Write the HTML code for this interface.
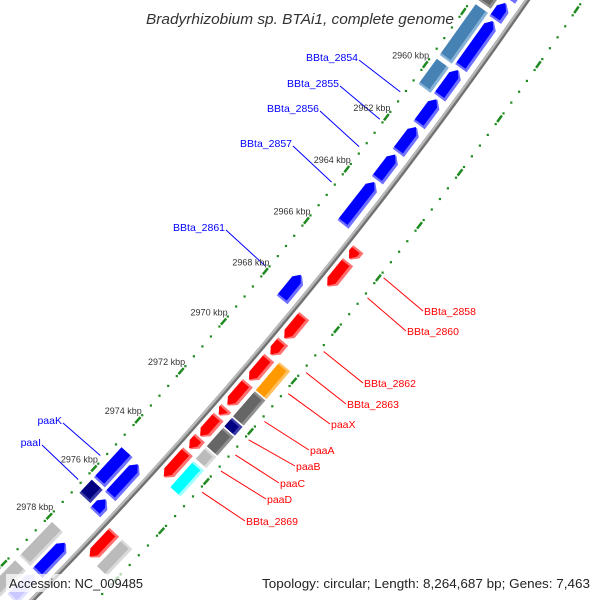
<!DOCTYPE html>
<html><head><meta charset="utf-8"><style>
html,body{margin:0;padding:0;background:#fff;width:600px;height:600px;overflow:hidden;}
svg{display:block;font-family:"Liberation Sans",sans-serif;}
</style></head><body>
<svg id="map" width="600" height="600" viewBox="0 0 600 600" xmlns="http://www.w3.org/2000/svg">
<rect x="0" y="0" width="600" height="600" fill="#fff"/>
<g id="ticks"></g>
<g id="backbone"></g>
<g id="genes"></g>
<g id="labels"></g>
<g id="ticklabels"></g>
<text x="146" y="24" font-size="15" font-style="italic" fill="#333" textLength="308" lengthAdjust="spacingAndGlyphs">Bradyrhizobium sp. BTAi1, complete genome</text>
<rect x="6" y="574" width="142" height="18" fill="#fff" opacity="0.7"/>
<rect x="258" y="574" width="336" height="18" fill="#fff" opacity="0.7"/>
<text x="9" y="588" font-size="13" fill="#222" textLength="134" lengthAdjust="spacingAndGlyphs">Accession: NC_009485</text>
<text x="262" y="588" font-size="13" fill="#222" textLength="328" lengthAdjust="spacingAndGlyphs">Topology: circular; Length: 8,264,687 bp; Genes: 7,463</text>
</svg>
<script>
// ---- data ----
const geneStart = [2955.8,2957.05,2957.72,2959.55,2960.65,2961.7,2962.75,2963.8,2967.4,2974.95,2975.0,2976.3,2976.45,2978.26,2979.6,2980.8,
                   2956.3,2957.6,2959.65,2978.07,2979.7,
                   2965.7,2966.2,2968.3,2969.3,2969.95,2970.95,2971.95,2972.3,2973.15,2973.7,2977.0,
                   2969.85,2971.0,2972.05,2972.45,2973.25,2973.8,2977.0];
const geneEnd   = [2956.9,2957.65,2959.45,2960.55,2961.6,2962.65,2963.7,2965.4,2968.35,2976.2,2976.29,2976.85,2976.96,2979.5,2980.6,2982.0,
                   2957.45,2959.5,2960.6,2979.5,2981.0,
                   2966.1,2967.15,2969.2,2969.85,2970.85,2971.85,2972.25,2973.1,2973.6,2974.75,2978.05,
                   2970.95,2972.0,2972.4,2973.2,2973.7,2974.85,2978.1];
const geneStrand= [1,1,1,1,1,1,1,1,1,1,1,1,1,1,1,1,
                   1,1,1,1,1,
                   -1,-1,-1,-1,-1,-1,-1,-1,-1,-1,-1,
                   -1,-1,-1,-1,-1,-1,-1];
const geneRow   = [1,1,1,1,1,1,1,1,1,2,1,2,1,1,1,1,
                   2,2,2,2,2,
                   1,1,1,1,1,1,1,1,1,1,1,
                   2,2,2,2,2,2,2];
const geneColor = ["blue","blue","blue","blue","blue","blue","blue","blue","blue","blue","blue","navy","blue","blue","lav","blue",
                   "dgray","steel","steel","lgray","lgray",
                   "red","red","red","red","red","red","red","red","red","red","red",
                   "orange","dgray","navy","dgray","lgray","cyan","lgray"];
const labelNames = ["BBta_2854","BBta_2855","BBta_2856","BBta_2857","BBta_2861","paaK","paaI",
                    "BBta_2858","BBta_2860","BBta_2862","BBta_2863","paaX","paaA","paaB","paaC","paaD","BBta_2869"];
const labelGene  = [4,5,6,7,8,9,11, 21,22,23,24,32,33,34,35,36,37];
const labelX     = [359,340,320,293,226,63,42, 423,406,363,346,330,309,295,279,266,245];
const labelY     = [60,86,111,146,230,423,445, 311,331,383,404,424,450,466,483,499,521];
const majorTicks = [2956,2958,2960,2962,2964,2966,2968,2970,2972,2974,2976,2978,2980,2982];
const tickLabels = ["2960 kbp","2962 kbp","2964 kbp","2966 kbp","2968 kbp","2970 kbp","2972 kbp","2974 kbp","2976 kbp","2978 kbp"];
const tickLabelKbp = [2960,2962,2964,2966,2968,2970,2972,2974,2976,2978];

// ---- geometry ----
const CX=-3226, CY=-2593, R=4562;
const TH0=Math.atan2(2656,3649), PERK=0.1302/18;
function P(k,d){const t=TH0+(k-2960)*PERK;return [CX+(R+d)*Math.cos(t), CY+(R+d)*Math.sin(t)];}
function tang(k){const t=TH0+(k-2960)*PERK;return [-Math.sin(t),Math.cos(t)];}
const NS="http://www.w3.org/2000/svg";
function mk(tag,attrs,parent){const e=document.createElementNS(NS,tag);for(const a in attrs)e.setAttribute(a,attrs[a]);parent.appendChild(e);return e;}
const pal={blue:["#0000ff","#7070ff"],navy:["#000080","#3c3ca8"],steel:["#4682b4","#86b2d8"],dgray:["#666666","#8e8e8e"],
  lgray:["#bbbbbb","#dadada"],red:["#ff0000","#ff7070"],orange:["#ff9900","#ffc060"],cyan:["#00ffff","#a0ffff"],lav:["#c8c8ff","#e0e0ff"]};
const rows={"1_1":[-22,-8],"2_1":[-40,-25],"1_-1":[6,19],"2_-1":[23,37]};

// ticks
const tg=document.getElementById('ticks');
[-46,46].forEach(function(d){
  for(let i=0;i<=70;i++){
    const k=2955+i*0.4;
    if(Math.abs(Math.round(k/2)*2-k)<0.01) continue;
    const p=P(k,d);
    const dot=mk('rect',{x:(p[0]-1.1).toFixed(1),y:(p[1]-1.1).toFixed(1),width:2.2,height:2.2,fill:"#1f8a1f"},tg);
    
    
  }
  majorTicks.forEach(function(k){
    const p=P(k,d),t=tang(k);
    const ln=mk('line',{x1:(p[0]-t[0]*4).toFixed(1),y1:(p[1]-t[1]*4).toFixed(1),x2:(p[0]+t[0]*4).toFixed(1),y2:(p[1]+t[1]*4).toFixed(1),stroke:"#1f8a1f","stroke-width":2.5},tg);
    
    
  });
});

// backbone
const bg=document.getElementById('backbone');
function arcPath(d){let s="";for(let k=2950;k<=2986;k+=0.5){const p=P(k,d);s+=(s?"L":"M")+p[0].toFixed(1)+","+p[1].toFixed(1);}return s;}
[[0,"#999",5],[-1.3,"#bdbdbd",1.6],[1.3,"#6e6e6e",1.8]].forEach(function(b){
  const pth=mk('path',{d:arcPath(b[0]),fill:"none",stroke:b[1],"stroke-width":b[2]},bg);
  
  
});

// genes
const gg=document.getElementById('genes');
function shape(k1,k2,d1,d2,strand,arrow){
  const dm=(d1+d2)/2, pts=[];
  const hl=arrow?Math.min(0.2,k2-k1):0;
  function add(k,d){pts.push(P(k,d));}
  if(strand===1){
    add(k1,arrow?dm:d1);
    add(k1+hl,d1); add(k2,d1); add(k2,d2); add(k1+hl,d2); if(!arrow) add(k1,d2);
  } else {
    add(k1,d1); add(k2-hl,d1); add(k2,arrow?dm:d1); if(!arrow) add(k2,d2); add(k2-hl,d2); add(k1,d2);
  }
  return pts.map(p=>p[0].toFixed(1)+","+p[1].toFixed(1)).join(" ");
}
for(let i=0;i<geneStart.length;i++){
  const rr=rows[geneRow[i]+"_"+geneStrand[i]];
  const arrow=geneRow[i]===1;
  const c=pal[geneColor[i]];
  const g=mk('g',{},gg);
  
  
  mk('polygon',{points:shape(geneStart[i],geneEnd[i],rr[0],rr[1],geneStrand[i],arrow),fill:c[1]},g);
  let k1=geneStart[i],k2=geneEnd[i];
  if(geneStrand[i]===1) k2=Math.max(k1+0.05,k2-0.07); else k1=Math.min(k2-0.05,k1+0.07);
  mk('polygon',{points:shape(k1,k2,rr[0],rr[1]-3,geneStrand[i],arrow),fill:c[0]},g);
}

// labels
const lg=document.getElementById('labels');
for(let j=0;j<labelNames.length;j++){
  const gi=labelGene[j], st=geneStrand[gi];
  const km=(geneStart[gi]+geneEnd[gi])/2;
  const p=P(km, st===1?-50:50);
  const col=st===1?"#0000ff":"#ff0000";
  const ln=mk('line',{x1:p[0].toFixed(1),y1:p[1].toFixed(1),x2:labelX[j],y2:labelY[j],stroke:col,"stroke-width":1},lg);
  
  
  const tx=mk('text',{x:st===1?labelX[j]-1:labelX[j]+1,y:st===1?labelY[j]+1:labelY[j]+4,"font-size":10.5,fill:col,"text-anchor":st===1?"end":"start"},lg);
  tx.textContent=labelNames[j];
  
  
}

// tick labels
const tlg=document.getElementById('ticklabels');
for(let j=0;j<tickLabels.length;j++){
  const p=P(tickLabelKbp[j],-46);
  const tx=mk('text',{x:(p[0]+4).toFixed(1),y:(p[1]-6).toFixed(1),"font-size":9,fill:"#333","text-anchor":"end"},tlg);
  tx.textContent=tickLabels[j];
  
  
}
</script>
</body></html>
